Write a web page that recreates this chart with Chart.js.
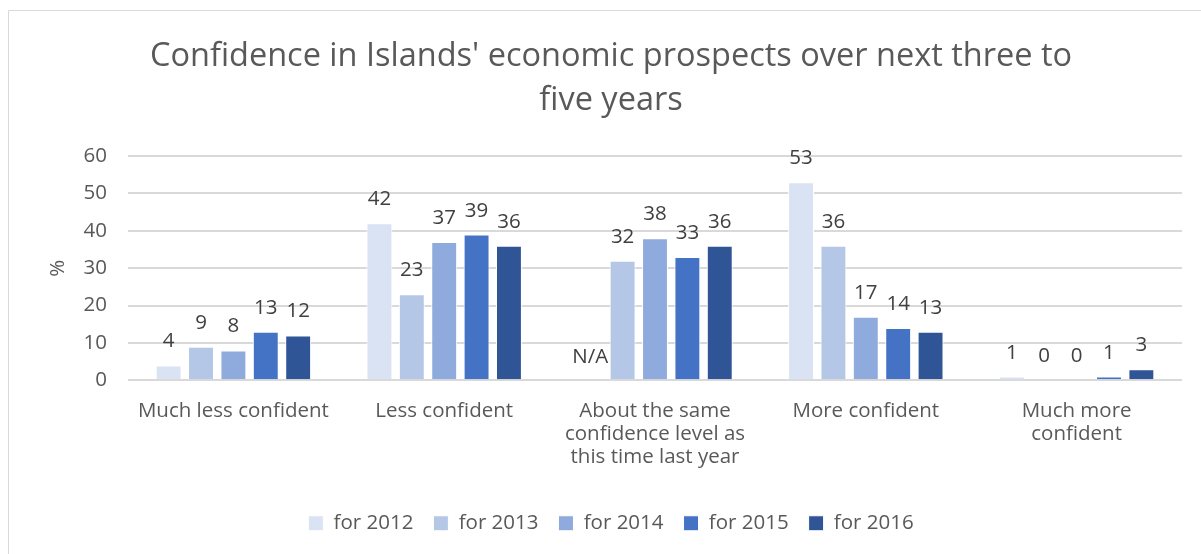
<!DOCTYPE html>
<html>
<head>
<meta charset="utf-8">
<script src="https://cdn.jsdelivr.net/npm/chart.js@4/dist/chart.umd.min.js"></script>
<style>
  html, body { margin: 0; padding: 0; background: #fff; }
  #wrap { position: relative; width: 1201px; height: 554px; }
</style>
</head>
<body>
<div id="wrap"><canvas id="chart" width="1201" height="554"></canvas></div>
<script>
// categories and series
const categories = [
  'Much less confident',
  'Less confident',
  ['About the same', 'confidence level as', 'this time last year'],
  'More confident',
  ['Much more', 'confident']
];
const seriesNames = ['for 2012', 'for 2013', 'for 2014', 'for 2015', 'for 2016'];
const values2012 = [4, 42, null, 53, 1];
const values2013 = [9, 23, 32, 36, 0];
const values2014 = [8, 37, 38, 17, 0];
const values2015 = [13, 39, 33, 14, 1];
const values2016 = [12, 36, 36, 13, 3];
const seriesColors = ['#DAE3F3', '#B4C7E7', '#8FAADC', '#4472C4', '#2F5597'];
const yTicks = [0, 10, 20, 30, 40, 50, 60];

const allValues = [values2012, values2013, values2014, values2015, values2016];
const FONT = '"Open Sans", "Liberation Sans", sans-serif';

// outer frame of the chart area
const framePlugin = {
  id: 'frame',
  beforeDraw(chart) {
    const ctx = chart.ctx;
    ctx.save();
    ctx.fillStyle = '#fff';
    ctx.fillRect(0, 0, chart.width, chart.height);
    ctx.strokeStyle = '#d9d9d9';
    ctx.lineWidth = 1;
    ctx.beginPath();
    ctx.moveTo(8.5, chart.height);
    ctx.lineTo(8.5, 10.5);
    ctx.lineTo(chart.width, 10.5);
    ctx.stroke();
    ctx.restore();
  }
};

// value labels above each bar, "N/A" where there is no value
const valueLabels = {
  id: 'valueLabels',
  afterDatasetsDraw(chart) {
    const ctx = chart.ctx;
    const y0 = chart.scales.y.getPixelForValue(0);
    ctx.save();
    ctx.font = '20.5px ' + FONT;
    ctx.fillStyle = '#404040';
    ctx.textAlign = 'center';
    ctx.textBaseline = 'alphabetic';
    chart.data.datasets.forEach((ds, i) => {
      chart.getDatasetMeta(i).data.forEach((bar, j) => {
        const v = ds.data[j];
        if (v === null) {
          ctx.fillText('N/A', bar.x, y0 - 17);
        } else {
          ctx.fillText(String(v), bar.x, bar.y - 18);
        }
      });
    });
    ctx.restore();
  }
};

new Chart(document.getElementById('chart'), {
  type: 'bar',
  data: {
    labels: categories,
    datasets: seriesNames.map((name, i) => ({
      label: name,
      data: allValues[i],
      backgroundColor: seriesColors[i],
      borderColor: '#ffffff',
      borderWidth: 1,
      categoryPercentage: 0.768,
      barPercentage: 0.8
    }))
  },
  options: {
    responsive: false,
    animation: false,
    devicePixelRatio: 1,
    layout: { padding: { left: 40, right: 19, top: 35, bottom: 10.5 } },
    plugins: {
      title: {
        display: true,
        text: ["Confidence in Islands' economic prospects over next three to", 'five years'],
        color: '#595959',
        font: { family: FONT, size: 32.5, weight: 'normal', lineHeight: 1.354 },
        padding: { top: 0, bottom: 33 }
      },
      legend: {
        position: 'bottom',
        labels: {
          color: '#595959',
          font: { family: FONT, size: 20.5 },
          boxWidth: 15,
          boxHeight: 15,
          padding: 20
        }
      },
      tooltip: { enabled: false }
    },
    scales: {
      y: {
        min: 0,
        max: 60,
        afterBuildTicks(axis) { axis.ticks = yTicks.map(v => ({ value: v })); },
        afterFit(axis) { axis.width = 88; },
        grid: { color: '#d9d9d9', lineWidth: 2, drawTicks: false },
        border: { display: false },
        ticks: { color: '#595959', font: { family: FONT, size: 20.5 }, padding: 21 },
        title: { display: true, text: '%', color: '#595959', font: { family: FONT, size: 20.5 }, padding: { top: 6, bottom: 0 } }
      },
      x: {
        afterFit(axis) { axis.height += 13; },
        grid: { display: false },
        border: { display: false },
        ticks: { color: '#595959', font: { family: FONT, size: 20.5, lineHeight: 1.1 }, maxRotation: 0, autoSkip: false, padding: 12 }
      }
    }
  },
  plugins: [framePlugin, valueLabels]
});
</script>
</body>
</html>
